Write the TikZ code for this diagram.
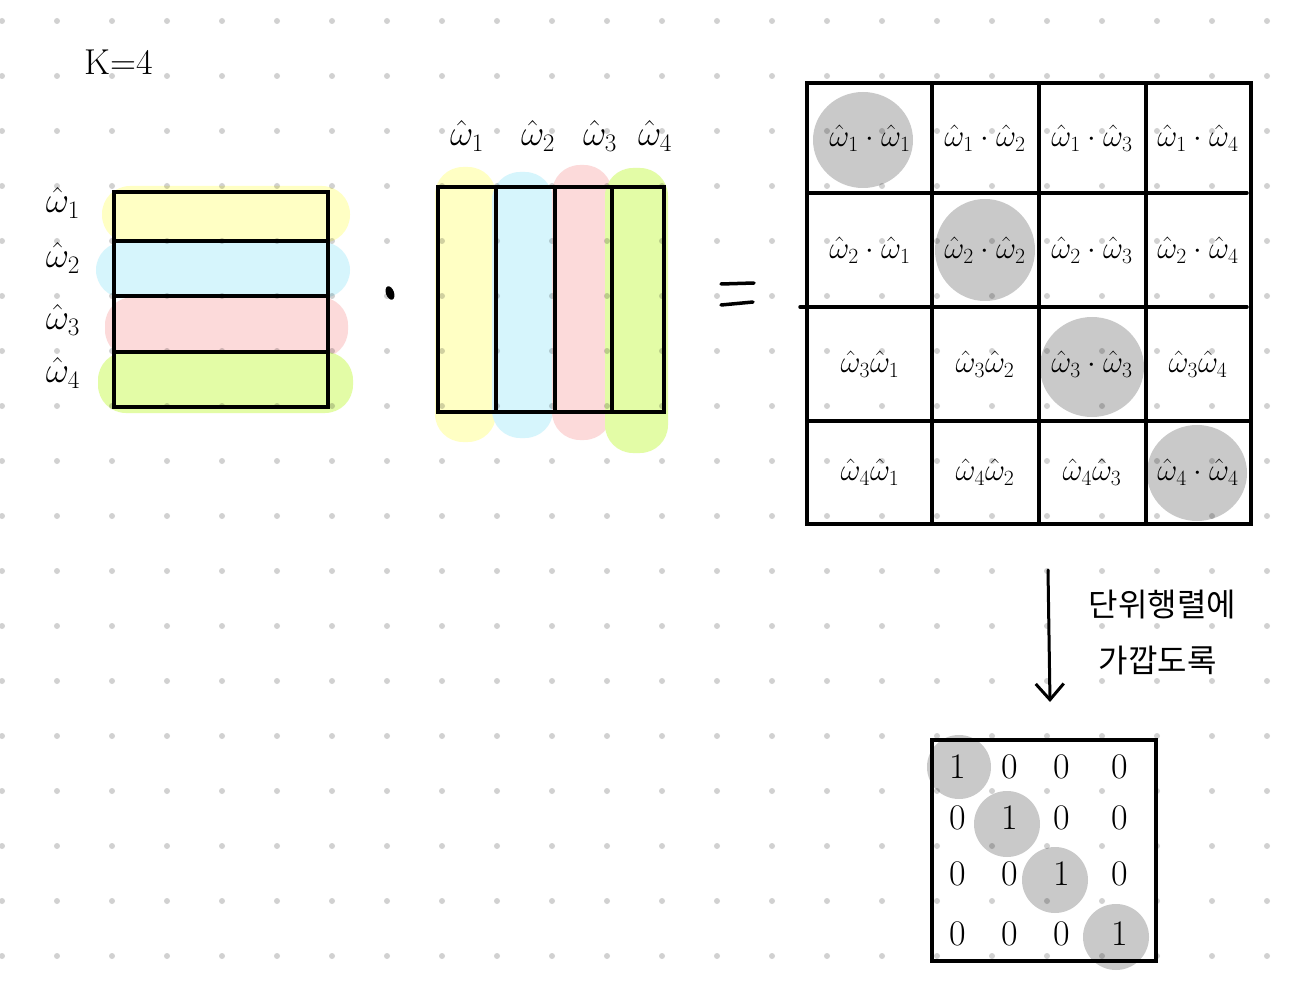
\RequirePackage{fix-cm}
\documentclass[tikz,border=0pt]{standalone}
\usepackage{fontspec}
\usepackage{amsmath}
\newfontfamily\krfont{Noto Sans CJK KR}
\usetikzlibrary{arrows,arrows.meta,calc}
\definecolor{hlyellow}{HTML}{FFFFC4}
\definecolor{hlblue}{HTML}{D6F5FC}
\definecolor{hlpink}{HTML}{FCDADA}
\definecolor{hlgreen}{HTML}{E3FCA6}
\definecolor{diaggray}{HTML}{C9C9C9}
\newcommand{\wh}[1]{\hat{\omega}_{#1}}

\begin{document}
\begin{tikzpicture}[x=1pt,y=-1pt,line width=3.5pt,line cap=round,
    big/.style={font=\fontsize{36}{40}\selectfont,inner sep=0pt},
    cell/.style={font=\fontsize{31}{34}\selectfont,inner sep=0pt},
    num/.style={font=\fontsize{36}{38}\selectfont,inner sep=0pt},
    note/.style={font=\krfont\fontsize{32}{36}\selectfont,inner sep=0pt,anchor=west},
    hl/.style={rounded corners=28pt},
    >={Straight Barb[length=16pt,width=28pt]}]
\fill[white] (0,0) rectangle (1304,1000);
\useasboundingbox (0,0) rectangle (1304,1000);

\fill[hlyellow,hl] (102,186) rectangle (350,243);
\fill[hlblue,hl] (96,242) rectangle (350,298);
\fill[hlpink,hl] (105,297) rectangle (348,358);
\fill[hlgreen,hl] (98,352) rectangle (353,413);
\fill[hlyellow,hl] (435,167) rectangle (496,442);
\fill[hlblue,hl] (492,172) rectangle (553,438);
\fill[hlpink,hl] (552,165) rectangle (612,440);
\fill[hlgreen,hl] (605,168) rectangle (668,453);

\fill[diaggray] (863,140) ellipse (50 and 48);
\fill[diaggray] (985,250) ellipse (50 and 51);
\fill[diaggray] (1092,367) ellipse (52 and 50);
\fill[diaggray] (1197,473) ellipse (50 and 48);
\fill[diaggray] (959,767) circle (32);
\fill[diaggray] (1007,824) circle (33);
\fill[diaggray] (1055,880) circle (33);
\fill[diaggray] (1116,937) circle (33);

\foreach \i in {0,...,23}
  \foreach \j in {0,...,17}
    \fill[black,opacity=.18] (2+55*\i,21+55*\j) circle (3);

\node[font=\fontsize{36}{40}\selectfont,inner sep=0pt] (kval) at (119,62) {K=4};

\draw (114,192) rectangle (328,407);
\foreach \y in {241,296,352} \draw (114,\y) -- (328,\y);
\foreach \y [count=\r] in {203,258,320,373}
  \node[big] (row\r) at (63,\y) {$\wh{\r}$};

\fill[rotate around={20:(390,293)}] (390,293) ellipse (4 and 7);

\draw (438,187) rectangle (664,412);
\foreach \x in {496,555,612} \draw (\x,187) -- (\x,412);
\foreach \x [count=\c] in {467,538,600,655}
  \node[big] (col\c) at (\x,136) {$\wh{\c}$};

\draw (721,284) -- (754,283);
\draw (721,305) -- (753,302);

\draw (807,83) rectangle (1251,524);
\foreach \x in {932,1039,1146} \draw (\x,83) -- (\x,524);
\draw (807,193) -- (1247,193);
\draw (800,307) -- (1247,307);
\draw (807,421) -- (1251,421);
\foreach \y/\a/\b/\c/\d [count=\r] in {
    138/{\wh1\cdot\wh1}/{\wh1\cdot\wh2}/{\wh1\cdot\wh3}/{\wh1\cdot\wh4},
    250/{\wh2\cdot\wh1}/{\wh2\cdot\wh2}/{\wh2\cdot\wh3}/{\wh2\cdot\wh4},
    364/{\wh3\wh1}/{\wh3\wh2}/{\wh3\cdot\wh3}/{\wh3\wh4},
    472/{\wh4\wh1}/{\wh4\wh2}/{\wh4\wh3}/{\wh4\cdot\wh4}} {
  \node[cell] (m\r1) at (870,\y) {$\a$};
  \node[cell] (m\r2) at (985,\y) {$\b$};
  \node[cell] (m\r3) at (1092,\y) {$\c$};
  \node[cell] (m\r4) at (1198,\y) {$\d$};
}

\coordinate (arrS) at (1048,570);
\coordinate (arrE) at (1050,702);
\draw[->,line width=3pt] (arrS) -- (arrE);
\node[note] (note1) at (1087,605) {단위행렬에};
\node[note] (note2) at (1097,660) {가깝도록};

\draw (932,740) rectangle (1156,961);
\foreach \y/\a/\b/\c/\d [count=\r] in {
    767/1/0/0/0, 818/0/1/0/0, 874/0/0/1/0, 934/0/0/0/1} {
  \node[num] (e\r1) at (958,\y) {\a};
  \node[num] (e\r2) at (1010,\y) {\b};
  \node[num] (e\r3) at (1062,\y) {\c};
  \node[num] (e\r4) at (1120,\y) {\d};
}
\end{tikzpicture}
\end{document}
